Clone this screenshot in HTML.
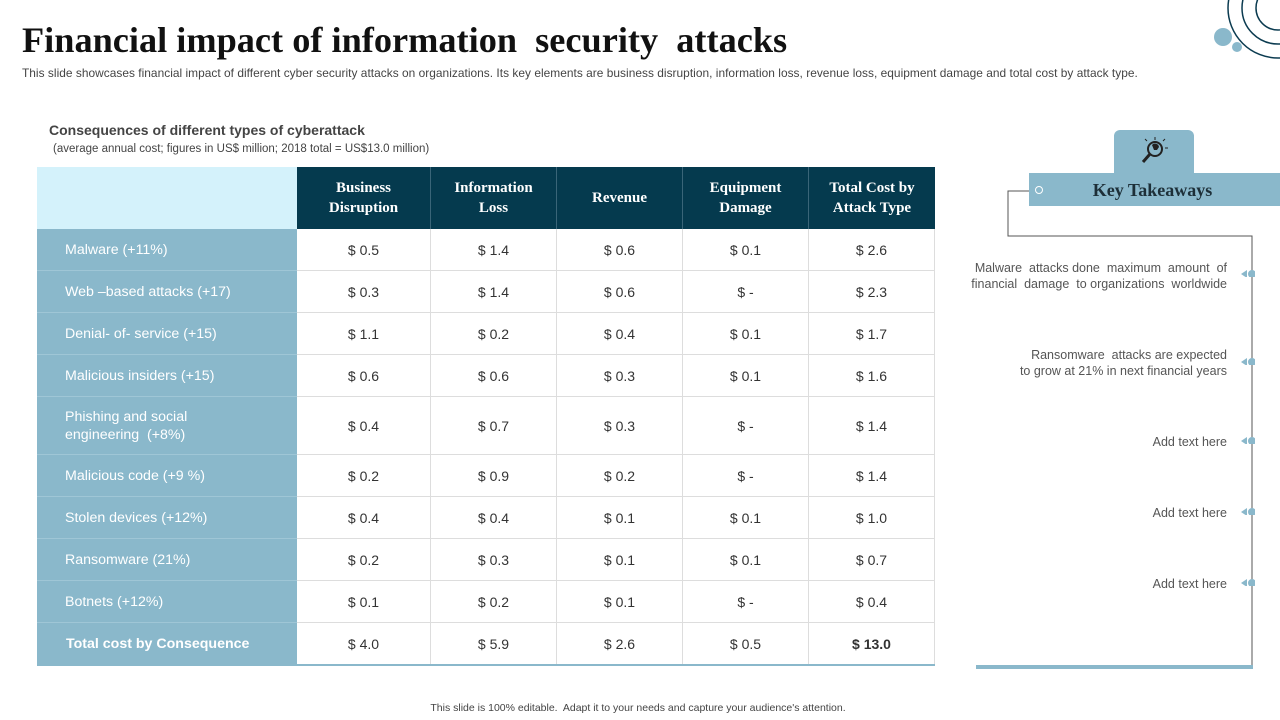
<!DOCTYPE html>
<html><head><meta charset="utf-8"><style>
body{margin:0;width:1280px;height:720px;position:relative;background:#fff;font-family:"Liberation Sans",sans-serif;overflow:hidden}
.a{position:absolute}
.t{font-family:"Liberation Serif",serif;font-weight:bold}
.row,.hd{position:absolute;left:37px;width:898px;display:flex}
.row div{display:flex;align-items:center;justify-content:center;font-size:14px;color:#333;border-right:1px solid #ddd;border-bottom:1px solid #ddd;box-sizing:border-box}
.row div.l{justify-content:flex-start;padding-left:28px;background:#8ab8cb;color:#fff;border-right:none;border-bottom:1px solid #9fc6d6;font-size:14.2px}
.hd div{display:flex;align-items:center;justify-content:center;text-align:center;background:#053a4e;color:#fff;font-family:"Liberation Serif",serif;font-weight:bold;font-size:15px;line-height:20px;border-right:1px solid #3a6578;box-sizing:border-box}
.tk{position:absolute;right:53px;text-align:right;font-size:12.5px;color:#555;line-height:16px}
.ar{position:absolute;left:1241px;width:14px;height:8px}
</style></head><body>
<div class="a t" style="left:22px;top:19px;font-size:36.3px;color:#111">Financial impact of information&nbsp; security&nbsp; attacks</div>
<div class="a" style="left:22px;top:66px;font-size:11.9px;color:#444;letter-spacing:0.03px">This slide showcases financial impact of different cyber security attacks on organizations. Its key elements are business disruption, information loss, revenue loss, equipment damage and total cost by attack type.</div>
<svg class="a" style="left:1190px;top:0" width="90" height="70"><g fill="none" stroke="#0b3b50" stroke-width="1.5"><circle cx="88" cy="8" r="22"/><circle cx="88" cy="8" r="36"/><circle cx="88" cy="8" r="50"/></g><circle cx="33" cy="37" r="9" fill="#8ab8cb"/><circle cx="47" cy="47" r="5" fill="#8ab8cb"/></svg>
<div class="a" style="left:49px;top:122px;font-size:14px;font-weight:bold;color:#444">Consequences of different types of cyberattack</div>
<div class="a" style="left:53px;top:143px;font-size:11.5px;color:#444">(average annual cost; figures in US$ million; 2018 total = US$13.0 million)</div>
<div class="a" style="left:37px;top:167px;width:260px;height:62px;background:#d4f2fb"></div>
<div class="hd" style="left:297px;width:638px;top:167px;height:62px">
<div style="width:134px">Business<br>Disruption</div><div style="width:126px">Information<br>Loss</div><div style="width:126px">Revenue</div><div style="width:126px">Equipment<br>Damage</div><div style="width:126px;border:none">Total Cost by<br>Attack Type</div></div>
<div id="rows"></div>
<div class="a" style="left:37px;top:664px;width:898px;height:2px;background:#8ab8cb"></div>
<div class="a" style="left:1114px;top:130px;width:80px;height:50px;background:#8ab8cb;border-radius:6px 6px 0 0"></div>
<svg class="a" style="left:1138px;top:135px" width="34" height="34"><circle cx="17" cy="14" r="7" fill="none" stroke="#222" stroke-width="2"/><path d="M14 10a4 4 0 0 1 7 2l-2 3h-3z" fill="#222"/><line x1="12" y1="19" x2="5" y2="27" stroke="#222" stroke-width="3"/><g stroke="#222"><line x1="17" y1="2" x2="17" y2="5"/><line x1="25" y1="6" x2="27" y2="4"/><line x1="9" y1="6" x2="7" y2="4"/><line x1="27" y1="13" x2="30" y2="13"/></g></svg>
<div class="a" style="left:1029px;top:173px;width:251px;height:33px;background:#8ab8cb"></div>
<div class="a t" style="left:1060px;top:180px;width:185px;text-align:center;font-size:18px;color:#1d2f38">Key Takeaways</div>
<div class="a" style="left:1035px;top:186px;width:6px;height:6px;border:1px solid #fff;border-radius:50%"></div>
<svg class="a" style="left:0;top:0" width="1280" height="720"><polyline points="1029,191 1008,191 1008,236 1252,236 1252,667" fill="none" stroke="#555" stroke-width="1"/><rect x="976" y="665" width="277" height="4" fill="#8ab8cb"/></svg>
<div class="tk" style="top:260px">Malware&nbsp; attacks done&nbsp; maximum&nbsp; amount&nbsp; of<br>financial&nbsp; damage&nbsp; to organizations&nbsp; worldwide</div>
<div class="tk" style="top:347px">Ransomware&nbsp; attacks are expected<br>to grow at 21% in next financial years</div>
<div class="tk" style="top:434px">Add text here</div>
<div class="tk" style="top:505px">Add text here</div>
<div class="tk" style="top:576px">Add text here</div>
<div id="arrows"></div>
<div class="a" style="left:0;width:1276px;text-align:center;top:702px;font-size:10.5px;color:#444">This slide is 100% editable.&nbsp; Adapt it to your needs and capture your audience's attention.</div>
<script>
const labels=["Malware (+11%)","Web –based attacks (+17)","Denial- of- service (+15)","Malicious insiders (+15)","Phishing and social<br>engineering&nbsp; (+8%)","Malicious code (+9 %)","Stolen devices (+12%)","Ransomware (21%)","Botnets (+12%)","Total cost by Consequence"];
const business=["0.5","0.3","1.1","0.6","0.4","0.2","0.4","0.2","0.1","4.0"];
const info=["1.4","1.4","0.2","0.6","0.7","0.9","0.4","0.3","0.2","5.9"];
const revenue=["0.6","0.6","0.4","0.3","0.3","0.2","0.1","0.1","0.1","2.6"];
const equipment=["0.1","-","0.1","0.1","-","-","0.1","0.1","-","0.5"];
const total=["2.6","2.3","1.7","1.6","1.4","1.4","1.0","0.7","0.4","13.0"];
const rowH=[42,42,42,42,58,42,42,42,42,42];
const arrowY=[274,362,441,512,583];
let y=229;const rc=document.getElementById('rows');
labels.forEach((l,i)=>{const r=document.createElement('div');r.className='row';r.style.top=y+'px';r.style.height=rowH[i]+'px';


const last=i===labels.length-1;
const cells=[business[i],info[i],revenue[i],equipment[i],total[i]];const w=[134,126,126,126,126];
let h='<div class="l" style="width:260px;line-height:18px'+(last?';font-weight:bold;padding-left:29px':'')+'">'+l+'</div>';
cells.forEach((c,j)=>{h+='<div style="width:'+w[j]+'px'+(last&&j===4?';font-weight:bold':'')+'">$ '+c+'</div>';});
r.innerHTML=h;rc.appendChild(r);y+=rowH[i];});
const ac=document.getElementById('arrows');
arrowY.forEach(v=>{const s=document.createElementNS('http://www.w3.org/2000/svg','svg');s.setAttribute('class','ar');s.setAttribute('width','16');s.setAttribute('height','10');s.style.top=(v-5)+'px';


s.innerHTML='<polygon points="0,5 6,1 6,9" fill="#8ab8cb"/><circle cx="11" cy="5" r="4" fill="#8ab8cb"/>';ac.appendChild(s);});
</script>
</body></html>
